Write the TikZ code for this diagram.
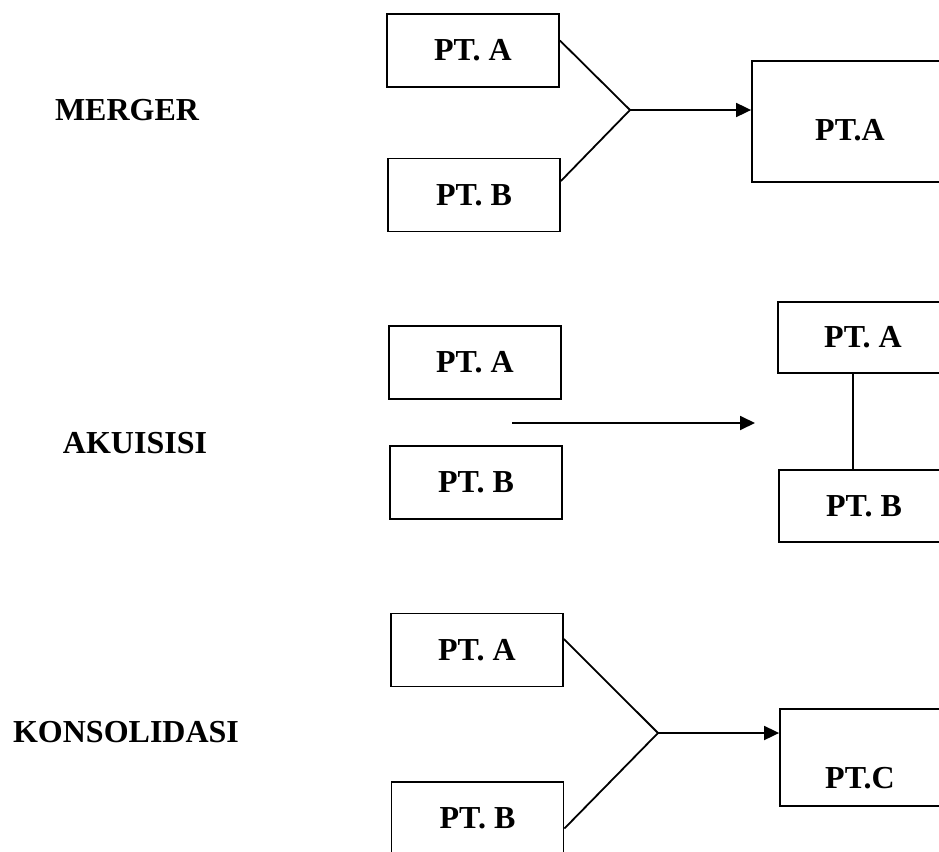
\documentclass[tikz,border=0pt]{standalone}
\usepackage{fontspec}
\setmainfont{Liberation Serif}
\usepackage{tikz}
\usetikzlibrary{calc}
\usetikzlibrary{positioning}
\usetikzlibrary{arrows.meta}
\tikzset{
  boxNode/.style={%
    rectangle, draw, line width=1.8pt, inner sep=0pt,
    minimum width=172pt, minimum height=73pt,
    font=\fontsize{32}{38}\selectfont\bfseries,
  },
  labelNode/.style={%
    inner sep=0pt, font=\fontsize{32}{38}\selectfont\bfseries,
  },
  arrowLine/.style={%
    line width=1.8pt, -{Triangle[length=15pt,width=14pt]},
  },
  plainLine/.style={%
    line width=1.8pt,
  }
}

\begin{document}
\begin{tikzpicture}[x=1pt,y=-1pt]

          \clip (0,0) rectangle (939,851);

          % merger
          \node[labelNode] (mergerLabel) at (127,110) {MERGER} ;
          \node[boxNode] (mergerA) at (473,50.5) {PT. A} ;
          \node[boxNode] (mergerB) at (474,195) {PT. B} ;
          \node[boxNode,minimum width=196pt,text height=79.5pt,text depth=41.5pt] (mergerRes) at (850,121.5) {PT.A} ;
          \coordinate (mergerJoin) at (630,110) ;

          \draw[plainLine]
            ([yshift=10pt]mergerA.east) -- (mergerJoin)
            ([yshift=14pt]mergerB.east) -- (mergerJoin)
            ;
          \draw[arrowLine] (mergerJoin) -- (mergerJoin -| mergerRes.west) ;

          % akuisisi
          \node[labelNode] (akuisisiLabel) at (135,443) {AKUISISI} ;
          \node[boxNode] (akuisisiA) at (475,362.5) {PT. A} ;
          \node[boxNode] (akuisisiB) at (476,482.5) {PT. B} ;
          \node[boxNode,minimum width=170pt,minimum height=71pt] (akuisisiResA) at (863,337.5) {PT. A} ;
          \node[boxNode,minimum width=170pt,minimum height=72pt] (akuisisiResB) at (864,506) {PT. B} ;
          \coordinate (akuisisiStart) at (512,423) ;
          \coordinate (akuisisiEnd) at (755,423) ;

          \draw[arrowLine] (akuisisiStart) -- (akuisisiEnd) ;
          \draw[plainLine] ([xshift=-10pt]akuisisiResA.south) -- ([xshift=-11pt]akuisisiResB.north) ;

          % konsolidasi
          \node[labelNode] (konsolidasiLabel) at (126,732) {KONSOLIDASI} ;
          \node[boxNode] (konsolidasiA) at (477,650) {PT. A} ;
          \node[boxNode] (konsolidasiB) at (477.5,818.5) {PT. B} ;
          \node[boxNode,minimum width=160pt,text height=79.5pt,text depth=17.5pt] (konsolidasiRes) at (860,757.5) {PT.C} ;
          \coordinate (konsolidasiJoin) at (658,733) ;

          \draw[plainLine]
            ([yshift=11pt]konsolidasiA.east) -- (konsolidasiJoin)
            ([yshift=-10pt]konsolidasiB.east) -- (konsolidasiJoin)
            ;
          \draw[arrowLine] (konsolidasiJoin) -- (konsolidasiJoin -| konsolidasiRes.west) ;

        \end{tikzpicture}
\end{document}
